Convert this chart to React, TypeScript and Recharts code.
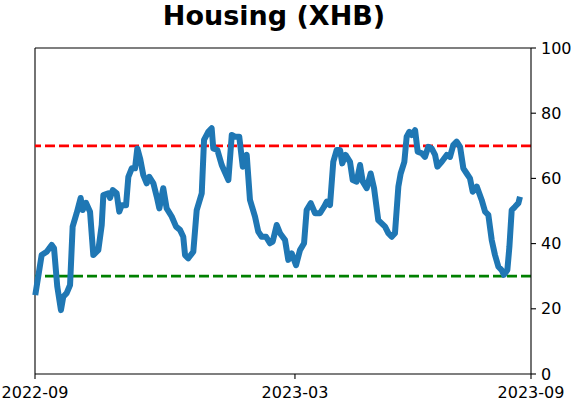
import React from 'react';
import { LineChart, Line, XAxis, YAxis, ReferenceLine } from 'recharts';

// x position in days since 2022-09 (axis scale), value of indicator
const days: number[] = [
  0.2, 4.9, 8.6, 12.3, 14.0, 16.4, 19.1, 20.8, 23.3, 25.8, 27.7, 30.7, 33.6, 35.1, 37.5, 40.5, 42.9, 46.6,
  49.1, 50.3, 53.9, 55.2, 57.2, 60.1, 62.0, 63.8, 67.0, 68.7, 71.2, 73.6, 75.3, 77.3, 79.7, 82.2, 84.1,
  87.1, 89.6, 91.5, 94.4, 96.9, 100.6, 103.8, 106.7, 109.1, 110.4, 112.8, 116.5, 119.0, 122.7, 124.4,
  127.5, 130.0, 131.2, 134.2, 137.4, 142.3, 144.8, 147.2, 150.3, 152.9, 155.8, 158.2, 161.9, 164.3,
  166.8, 170.0, 172.9, 174.9, 177.9, 180.3, 184.0, 186.4, 188.9, 192.1, 195.0, 198.0, 199.9, 202.9,
  206.1, 209.7, 212.7, 214.7, 217.1, 219.5, 222.0, 224.5, 226.1, 228.6, 231.8, 233.8, 236.7, 239.2,
  241.2, 244.1, 247.0, 249.5, 252.6, 255.1, 257.6, 260.0, 262.5, 264.9, 267.4, 269.1, 271.8, 273.5,
  275.5, 277.2, 279.7, 281.6, 284.6, 287.0, 289.4, 291.9, 294.4, 296.1, 299.3, 303.0, 305.4, 307.8,
  310.3, 312.8, 315.2, 317.7, 320.1, 322.1, 325.1, 328.7, 331.2, 333.6, 336.1, 338.5, 341.0, 343.4,
  345.1, 347.6, 349.1, 350.8, 353.2, 355.7, 356.9,
];

const values: number[] = [
  24.2, 36.5, 37.5, 39.6, 38.6, 26.8, 19.6, 23.7, 24.8, 27.3, 45.2, 49.4, 54.0, 50.3, 52.5, 49.8, 36.5, 38.0,
  45.7, 54.9, 55.4, 54.0, 56.4, 55.4, 49.8, 51.8, 51.8, 60.5, 63.1, 63.1, 69.2, 66.2, 61.0, 58.5, 60.5,
  58.5, 54.4, 50.8, 57.0, 50.8, 48.3, 45.2, 44.2, 42.1, 36.5, 35.5, 37.5, 50.3, 55.4, 71.8,
  74.3, 75.4, 69.2, 68.7, 64.1, 59.5, 73.3, 72.8, 72.8, 63.6, 67.2, 53.4, 48.3, 43.7,
  42.1, 42.1, 40.1, 40.6, 45.7, 43.2, 41.1, 35.0, 37.0, 33.4, 38.0, 40.1, 50.3, 52.4,
  49.3, 49.3, 51.3, 52.9, 51.8, 65.1, 68.7, 68.7, 64.6, 67.2, 65.1, 59.5, 59.0, 64.1,
  59.0, 57.0, 61.5, 57.0, 47.2, 46.2, 45.2, 43.2, 42.1, 43.2, 57.5, 61.5, 65.1, 72.8,
  74.3, 73.3, 74.8, 68.2, 67.7, 66.6, 69.7, 69.2, 67.2, 63.6, 65.1, 67.2, 66.6, 70.2,
  71.3, 69.7, 63.1, 61.5, 60.0, 55.9, 57.5, 53.4, 49.8, 48.8, 41.1, 36.5, 32.9, 31.9,
  30.4, 31.9, 39.0, 50.3, 51.3, 52.4, 54.4,
];

const xTicks: number[] = [0, 191.3, 365];
const xTickLabels: string[] = ['2022-09', '2023-03', '2023-09'];
const yTicks: number[] = [0, 20, 40, 60, 80, 100];
const upperLevel = 70;
const lowerLevel = 30;
const title = 'Housing (XHB)';

const data = days.map((d, i) => ({ d, v: values[i] }));

const font = 'DejaVu Sans';

export default function App() {
  return (
    <div style={{ position: 'absolute', left: 0, top: 0, width: 571, height: 402, background: '#fff' }}>
      <div
        style={{
          position: 'absolute',
          left: 0,
          top: 0,
          width: 548,
          textAlign: 'center',
          fontFamily: font,
          fontWeight: 'bold',
          fontSize: 27,
          lineHeight: 'normal',
          color: '#000',
        }}
      >
        {title}
      </div>
      <LineChart
        width={571}
        height={402}
        data={data}
        margin={{ top: 48, right: 0, bottom: 0, left: 35 }}
      >
        <XAxis
          dataKey="d"
          type="number"
          domain={[0, 365]}
          ticks={xTicks}
          tickFormatter={(t: number) => xTickLabels[xTicks.indexOf(t)] ?? ''}
          height={28}
          tickSize={5}
          tickMargin={8}
          axisLine={{ stroke: '#000', strokeWidth: 1.1 }}
          tickLine={{ stroke: '#000', strokeWidth: 1.1 }}
          tick={{ fill: '#000', fontSize: 16, fontFamily: font }}
          interval={0}
        />
        <YAxis
          orientation="right"
          type="number"
          domain={[0, 100]}
          ticks={yTicks}
          width={40}
          tickSize={5}
          tickMargin={5}
          axisLine={{ stroke: '#000', strokeWidth: 1.1 }}
          tickLine={{ stroke: '#000', strokeWidth: 1.1 }}
          tick={{ fill: '#000', fontSize: 16, fontFamily: font }}
          interval={0}
        />
        <ReferenceLine x={0} stroke="#000" strokeWidth={1.1} />
        <ReferenceLine y={100} stroke="#000" strokeWidth={1.1} />
        <ReferenceLine y={upperLevel} stroke="#ff0000" strokeWidth={2.7} strokeDasharray="10 4" />
        <ReferenceLine y={lowerLevel} stroke="#008000" strokeWidth={2.7} strokeDasharray="10 4" />
        <Line
          type="linear"
          dataKey="v"
          stroke="#1f77b4"
          strokeWidth={6}
          dot={false}
          activeDot={false}
          isAnimationActive={false}
          strokeLinejoin="round"
          strokeLinecap="butt"
        />
      </LineChart>
    </div>
  );
}
